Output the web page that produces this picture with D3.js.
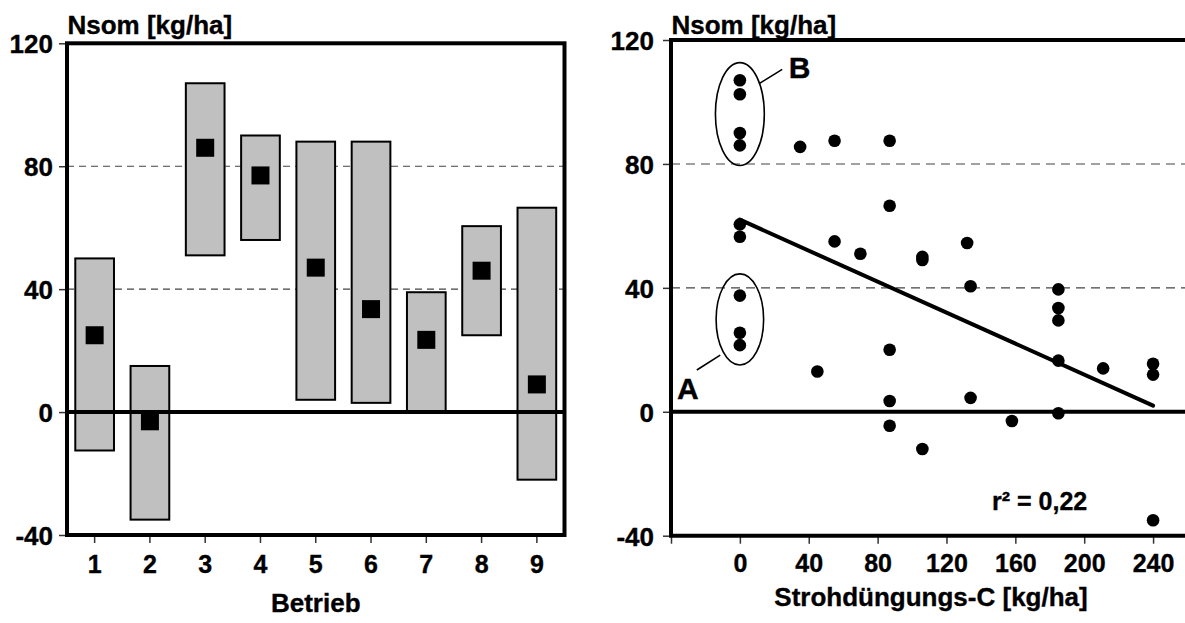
<!DOCTYPE html>
<html>
<head>
<meta charset="utf-8">
<script src="https://cdn.jsdelivr.net/npm/d3@7"></script>
<style>
  html, body { margin: 0; padding: 0; background: #fff; }
  svg text { font-family: "Liberation Sans", Arial, sans-serif; font-weight: bold; fill: #000; stroke: #000; stroke-width: 0.35px; }
</style>
</head>
<body>
<svg id="chart" width="1185" height="623"></svg>
<script>
// ---------- data ----------
const betriebe   = [1, 2, 3, 4, 5, 6, 7, 8, 9];
const rangeLow   = [-12.5, -35, 51, 56, 4, 3, 0, 25, -22];
const rangeHigh  = [50, 15, 107, 90, 88, 88, 39, 60.5, 66.5];
const meanNsom   = [25, -3, 86, 77, 47, 33.5, 23.5, 46, 9];

const yTickValues = [-40, 0, 40, 80, 120];
const yGridValues = [40, 80];

const strawC = [0, 0, 0, 0, 0, 0, 0, 0, 0,
                35, 45, 55, 55, 70,
                87, 87, 87, 87, 87,
                106, 106, 106, 132, 134, 134, 158,
                185, 185, 185, 185, 185, 211, 240, 240, 240];
const nsomPts = [107, 102.5, 90, 86, 60.5, 56.5, 37.5, 25.5, 21.5,
                 85.5, 13, 87.5, 55, 51,
                 87.5, 66.5, 20, 3.5, -4.5,
                 50, 49, -12, 54.5, 40.5, 4.5, -3,
                 39.5, 33.5, 29.5, 16.5, -0.5, 14, 15.5, 12, -35];
const xTickValues = [-40, 0, 40, 80, 120, 160, 200, 240];

const regIntercept = 62;
const regSlope = -0.25;
const regRange = [0, 240];
const r2Label = "r² = 0,22";

const yTitle = "Nsom [kg/ha]";
const xTitleLeft = "Betrieb";
const xTitleRight = "Strohdüngungs-C [kg/ha]";

// plain hyphen for negative numbers, as in the original
const fmt = d => String(d);

// ---------- layout ----------
const svg = d3.select("#chart");

// Left panel
const L = { left: 67, right: 564.5, top: 43.3, bottom: 535 };
const xL = d3.scaleBand().domain(betriebe).range([L.left, L.right]).padding(0);
const yL = d3.scaleLinear().domain([-40, 120]).range([L.bottom, L.top]);

const gL = svg.append("g");

gL.selectAll("line.grid").data(yGridValues).join("line")
  .attr("x1", L.left).attr("x2", L.right)
  .attr("y1", d => yL(d)).attr("y2", d => yL(d))
  .attr("stroke", "#444").attr("stroke-width", 1.1)
  .attr("stroke-dasharray", "7,5");

const barW = xL.bandwidth() * 0.70;
gL.selectAll("rect.bar").data(betriebe).join("rect")
  .attr("x", (d) => xL(d) + (xL.bandwidth() - barW) / 2)
  .attr("y", (d, i) => yL(rangeHigh[i]))
  .attr("width", barW)
  .attr("height", (d, i) => yL(rangeLow[i]) - yL(rangeHigh[i]))
  .attr("fill", "#c0c0c0").attr("stroke", "#000").attr("stroke-width", 2);

gL.append("line")
  .attr("x1", L.left).attr("x2", L.right)
  .attr("y1", yL(0)).attr("y2", yL(0))
  .attr("stroke", "#000").attr("stroke-width", 4);

const sq = 18;
gL.selectAll("rect.mean").data(betriebe).join("rect")
  .attr("x", d => xL(d) + xL.bandwidth() / 2 - sq / 2)
  .attr("y", (d, i) => yL(meanNsom[i]) - sq / 2)
  .attr("width", sq).attr("height", sq)
  .attr("fill", "#000");

const axLY = gL.append("g").attr("transform", `translate(${L.left},0)`)
  .call(d3.axisLeft(yL).tickValues(yTickValues).tickSize(8).tickPadding(6).tickFormat(fmt));
axLY.select(".domain").remove();
axLY.selectAll(".tick line").attr("stroke", "#333").attr("stroke-width", 1.5);
axLY.selectAll(".tick text").style("font-size", "26px").attr("dy", "0.36em");

const axLX = gL.append("g").attr("transform", `translate(0,${L.bottom})`)
  .call(d3.axisBottom(xL).tickSize(8).tickPadding(12).tickFormat(fmt));
axLX.select(".domain").remove();
axLX.selectAll(".tick line").attr("stroke", "#333").attr("stroke-width", 1.5);
axLX.selectAll(".tick text").style("font-size", "25px");

gL.append("rect")
  .attr("x", L.left).attr("y", L.top)
  .attr("width", L.right - L.left).attr("height", L.bottom - L.top)
  .attr("fill", "none").attr("stroke", "#000").attr("stroke-width", 4);

gL.append("text").attr("x", 67.5).attr("y", 33.5)
  .style("font-size", "26px").text(yTitle);
gL.append("text").attr("x", (L.left + L.right) / 2).attr("y", 612)
  .attr("text-anchor", "middle").style("font-size", "26px").text(xTitleLeft);

// Right panel
const R = { left: 671, top: 40, bottom: 535.7 };
const xR = d3.scaleLinear().domain([-40, 280]).range([R.left, R.left + 320 * 1.7217]);
const yR = d3.scaleLinear().domain([-40, 120]).range([R.bottom, R.top]);
const Rright = 1190;

const gR = svg.append("g");

gR.selectAll("line.grid").data(yGridValues).join("line")
  .attr("x1", R.left).attr("x2", Rright)
  .attr("y1", d => yR(d)).attr("y2", d => yR(d))
  .attr("stroke", "#444").attr("stroke-width", 1.1)
  .attr("stroke-dasharray", "9,6");

gR.append("line")
  .attr("x1", R.left).attr("x2", Rright)
  .attr("y1", yR(0)).attr("y2", yR(0))
  .attr("stroke", "#000").attr("stroke-width", 4);

gR.append("line")
  .attr("x1", xR(regRange[0])).attr("y1", yR(regIntercept + regSlope * regRange[0]))
  .attr("x2", xR(regRange[1])).attr("y2", yR(regIntercept + regSlope * regRange[1]))
  .attr("stroke", "#000").attr("stroke-width", 4).attr("stroke-linecap", "round");

gR.selectAll("circle.pt").data(strawC).join("circle")
  .attr("cx", d => xR(d))
  .attr("cy", (d, i) => yR(nsomPts[i]))
  .attr("r", 6.3).attr("fill", "#000");

const ann = [
  { label: "B", cx: 0, cy: 96.1, rx: 14.2, ry: 16.6, l1: [11.4, 106], l2: [24.6, 110.5], tx: 28.4, ty: 107.6 },
  { label: "A", cx: 0, cy: 29.8, rx: 13.8, ry: 14.7, l1: [-11.4, 18.3], l2: [-25, 13.5], tx: -36.5, ty: 4.1 }
];
ann.forEach(a => {
  gR.append("ellipse")
    .attr("cx", xR(a.cx)).attr("cy", yR(a.cy))
    .attr("rx", xR(a.rx) - xR(0)).attr("ry", yR(0) - yR(a.ry))
    .attr("fill", "none").attr("stroke", "#000").attr("stroke-width", 1.6);
  gR.append("line")
    .attr("x1", xR(a.l1[0])).attr("y1", yR(a.l1[1]))
    .attr("x2", xR(a.l2[0])).attr("y2", yR(a.l2[1]))
    .attr("stroke", "#000").attr("stroke-width", 1.6);
  gR.append("text").attr("x", xR(a.tx)).attr("y", yR(a.ty))
    .style("font-size", "30px").text(a.label);
});

const axRY = gR.append("g").attr("transform", `translate(${R.left},0)`)
  .call(d3.axisLeft(yR).tickValues(yTickValues).tickSize(8).tickPadding(9).tickFormat(fmt));
axRY.select(".domain").remove();
axRY.selectAll(".tick line").attr("stroke", "#333").attr("stroke-width", 1.5);
axRY.selectAll(".tick text").style("font-size", "26px").attr("dy", "0.36em");

const axRX = gR.append("g").attr("transform", `translate(0,${R.bottom})`)
  .call(d3.axisBottom(xR).tickValues(xTickValues).tickSize(8).tickPadding(11)
    .tickFormat(d => d < 0 ? "" : fmt(d)));
axRX.select(".domain").remove();
axRX.selectAll(".tick line").attr("stroke", "#333").attr("stroke-width", 1.5);
axRX.selectAll(".tick text").style("font-size", "25px");

gR.append("path")
  .attr("d", `M${Rright},${R.top} L${R.left},${R.top} L${R.left},${R.bottom} L${Rright},${R.bottom}`)
  .attr("fill", "none").attr("stroke", "#000").attr("stroke-width", 4);

gR.append("text").attr("x", 671.5).attr("y", 33.5)
  .style("font-size", "26px").text(yTitle);
gR.append("text").attr("x", 931).attr("y", 606)
  .attr("text-anchor", "middle").style("font-size", "26px").text(xTitleRight);
gR.append("text").attr("x", 992).attr("y", 510)
  .style("font-size", "25px").text(r2Label);
</script>
</body>
</html>
